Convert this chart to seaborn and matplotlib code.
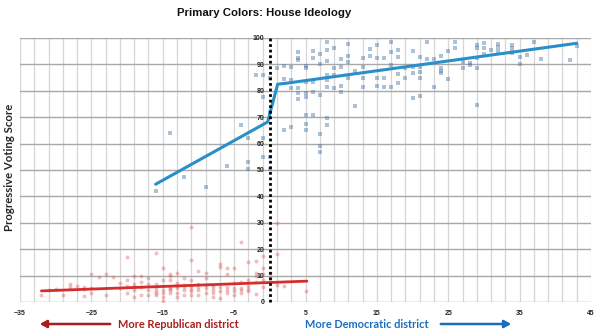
import matplotlib
matplotlib.use("Agg")
import matplotlib.pyplot as plt
import seaborn as sns
import numpy as np
import pandas as pd

# ---------------- data ----------------
dem_x = [-16, -14, -12, -9, -6, -4, -3, -3, -3, -1, -1, 0, 0, 0, -2, -1, -1, 0, 1, 2, 2, 3, 3, 3, 2, 3,
         4, 4, 4, 4, 4, 4, 5, 5, 5, 5, 5, 5, 5, 5, 6, 6, 6, 6, 6, 7, 7, 7, 7, 7, 7,
         8, 8, 8, 8, 8, 8, 8, 8, 9, 9, 9, 9, 10, 10, 10, 10, 11, 11, 11, 11, 12, 12,
         13, 13, 13, 13, 14, 14, 15, 15, 15, 15, 16, 16, 16, 17, 17, 17, 17, 18, 18, 18, 18,
         19, 19, 20, 20, 20, 20, 21, 21, 21, 21, 21, 22, 22, 23, 23, 24, 24, 24, 24, 25, 25,
         26, 26, 27, 27, 28, 28, 29, 29, 29, 29, 29, 30, 30, 30, 31, 32, 32, 32,
         34, 34, 34, 34, 35, 35, 36, 37, 38, 42, 43]
dem_y = [42, 64, 47.3, 43.6, 51.5, 67, 62, 53, 50.4, 62, 55, 55, 50.4, 72, 86, 86, 77.6, 85, 88.6, 89.4, 84.5, 89, 84, 81, 65, 66.3,
         94.8, 92.5, 91.7, 81, 79, 77, 89.4, 88.6, 83.3, 79, 77.6, 71, 67.4, 65, 95, 92.4, 83.3, 79.5, 70.8, 94, 90, 78.4, 63.6, 59, 57,
         98.5, 95.5, 91.3, 86, 84, 81.4, 69.6, 67, 96.2, 88.6, 86, 81, 92, 89, 82, 79.5, 97.7, 93.3, 91, 84.8, 87.6, 74.4,
         92.4, 89, 84.8, 81.4, 96, 93.3, 97.3, 92.4, 84.8, 82, 92.4, 84.8, 81.4, 98.5, 94.7, 89.8, 81.4, 95.5, 92.8, 86.4, 83,
         88.6, 84.8, 95, 89, 86.7, 77.3, 92.8, 89, 87, 85, 78, 98.5, 92, 92, 81.4, 93.2, 88.6, 87.6, 86.7, 95, 84.4,
         98.5, 96.2, 91, 88.6, 90.4, 89.6, 97.3, 96.2, 92.4, 88.6, 74.6, 96.2, 94, 98, 95.5, 97.7, 96.6, 95,
         97.3, 96.2, 94.7, 94.2, 92.8, 90.2, 93.5, 98.5, 92, 91.7, 97]

rep_x = [-32, -31, -30, -29, -28, -28, -27, -26, -26, -26, -25, -25, -25, -24, -23, -23, -22, -21, -21,
         -20, -20, -20, -20, -19, -19, -19, -19, -19, -18, -18, -18, -18, -17, -17, -17, -17,
         -16, -16, -16, -16, -16, -16, -15, -15, -15, -15, -15, -15, -15, -14, -14, -14, -14, -14, -14, -14,
         -13, -13, -13, -13, -13, -13, -12, -12, -12, -12, -12, -11, -11, -11, -11, -11, -11, -11,
         -10, -10, -10, -10, -10, -9, -9, -9, -9, -9, -8, -8, -8, -8, -8, -7, -7, -7, -7, -7,
         -6, -6, -6, -6, -6, -5, -5, -5, -5, -5, -4, -4, -4, -4, -4, -3, -3, -3, -3, -3,
         -2, -2, -2, -2, -2, -1, -1, -1, -1, -1, 0, 0, 1, 1, 1, 2, 5]
rep_y = [2.7, 4.5, 5, 2.7, 6.8, 5.7, 6, 5.7, 5, 2.3, 10.6, 5.3, 3.4, 9.5, 10.6, 2.7, 9.5, 7.2, 5.3,
         17, 8.3, 6, 3.4, 10, 6.8, 5.7, 4.5, 1.9, 10, 7.6, 5.7, 2.7, 9, 6.8, 4.5, 2.7,
         18.6, 6.8, 5.3, 4.2, 3.4, 2.7, 12.9, 8.3, 6, 4.6, 3.4, 1.9, 0.2, 10.6, 10, 8.3, 5.7, 4.9, 4.5, 3.4,
         11, 7.2, 6.2, 5.3, 3.4, 1.9, 9, 6.4, 5.5, 4.5, 2.7, 28.4, 15.9, 8.3, 6, 5, 4, 2.7,
         11.7, 6.8, 5.6, 4.5, 2.7, 11, 9, 6.5, 5.3, 3.4, 6.5, 5.7, 4.5, 3.4, 1.9, 14.4, 13.3, 5.7, 4, 1.5,
         12.9, 10.6, 5.7, 4.5, 3.4, 12.9, 7.2, 5.3, 4, 2.7, 22.7, 7.6, 5.3, 4.5, 3.4, 15.2, 8.3, 6, 5, 4,
         15.5, 11, 10, 7.6, 3, 17.4, 12.9, 10.6, 8.3, 5.5, 9.5, 11, 30, 18.2, 6.4, 6, 4.2]

dem_fit_x = [-16, -0.3, 1.1, 2.4, 43]
dem_fit_y = [44.6, 68.2, 82.5, 82.9, 98]
rep_fit_x = [-32, 5.2]
rep_fit_y = [4.2, 7.9]

x_ticks = [-35, -25, -15, -5, 5, 15, 25, 35, 45]
y_ticks = [0, 10, 20, 30, 40, 50, 60, 70, 80, 90, 100]

title = "Primary Colors: House Ideology"
y_label = "Progressive Voting Score"
rep_label = "More Republican district"
dem_label = "More Democratic district"

# ---------------- plot ----------------
sns.set_theme(style="white")
plt.rcParams['font.family'] = ['Liberation Sans', 'DejaVu Sans']

W, H = 600, 334
fig = plt.figure(figsize=(W / 100, H / 100), dpi=100)
ax = fig.add_axes([20 / W, 1 - 302 / H, (591 - 20) / W, (302 - 38) / H])

dem_df = pd.DataFrame({"x": dem_x, "y": dem_y})
rep_df = pd.DataFrame({"x": rep_x, "y": rep_y})

sns.scatterplot(data=rep_df, x="x", y="y", ax=ax, color="#dd5a5a", alpha=0.4,
                s=8, marker="o", linewidth=0, zorder=3)
sns.scatterplot(data=dem_df, x="x", y="y", ax=ax, color="#4a78a6", alpha=0.45,
                s=8, marker="s", linewidth=0, zorder=3)
sns.lineplot(x=dem_fit_x, y=dem_fit_y, ax=ax, color="#2a8fc8", lw=2.2, sort=False, zorder=4)
sns.lineplot(x=rep_fit_x, y=rep_fit_y, ax=ax, color="#d42d2d", lw=2.0, sort=False, zorder=4)

ax.set_xlim(-35, 45)
ax.set_ylim(0, 100)
ax.set_xticks(x_ticks)
ax.set_xticks(np.arange(-35, 46, 2), minor=True)
ax.set_yticks(y_ticks)
ax.grid(True, which="both", axis="x", color="#d6d6d6", lw=0.9, zorder=0)
ax.grid(True, which="major", axis="y", color="#a8a8a8", lw=1.0, zorder=0)
ax.set_axisbelow(True)

for s in ["top", "right", "bottom"]:
    ax.spines[s].set_visible(False)
ax.spines["left"].set_position(("data", 0))
ax.spines["left"].set_linewidth(0)
ax.axvline(0, ymin=0, ymax=1.005, color="black", lw=2.0, linestyle=(0, (1, 1)),
           zorder=5, clip_on=False)

ax.tick_params(axis="both", which="both", length=0)
ax.tick_params(axis="y", labelsize=5, pad=4)
ax.tick_params(axis="x", labelsize=5, pad=6)
for lab in ax.get_xticklabels() + ax.get_yticklabels():
    lab.set_fontweight("bold")
ax.set_xlabel("")
ax.set_ylabel("")

fig.text(264 / W, 1 - 13 / H, title, ha="center", va="center",
         fontsize=8.2, fontweight="bold", color="#111111")
fig.text(10 / W, 1 - 167 / H, y_label, rotation=90, ha="center", va="center",
         fontsize=8.2, fontweight="bold", family=["Lato", "DejaVu Sans"])

fig.text(178 / W, 1 - 324 / H, rep_label, ha="center", va="center", fontsize=7.9,
         fontweight="bold", color="#a81d1d", family=["Lato", "DejaVu Sans"])
fig.text(367 / W, 1 - 324 / H, dem_label, ha="center", va="center", fontsize=7.9,
         fontweight="bold", color="#1a6ec1", family=["Lato", "DejaVu Sans"])

fig.patches.append(matplotlib.patches.FancyArrowPatch(
    (113 / W, 1 - 324 / H), (37 / W, 1 - 324 / H), transform=fig.transFigure,
    arrowstyle="-|>,head_length=4,head_width=2.2", color="#a81d1d", lw=1.8))
fig.patches.append(matplotlib.patches.FancyArrowPatch(
    (438 / W, 1 - 324 / H), (514 / W, 1 - 324 / H), transform=fig.transFigure,
    arrowstyle="-|>,head_length=4,head_width=2.2", color="#1a6ec1", lw=1.8))

fig.savefig("out.png", dpi=100, facecolor="white")
